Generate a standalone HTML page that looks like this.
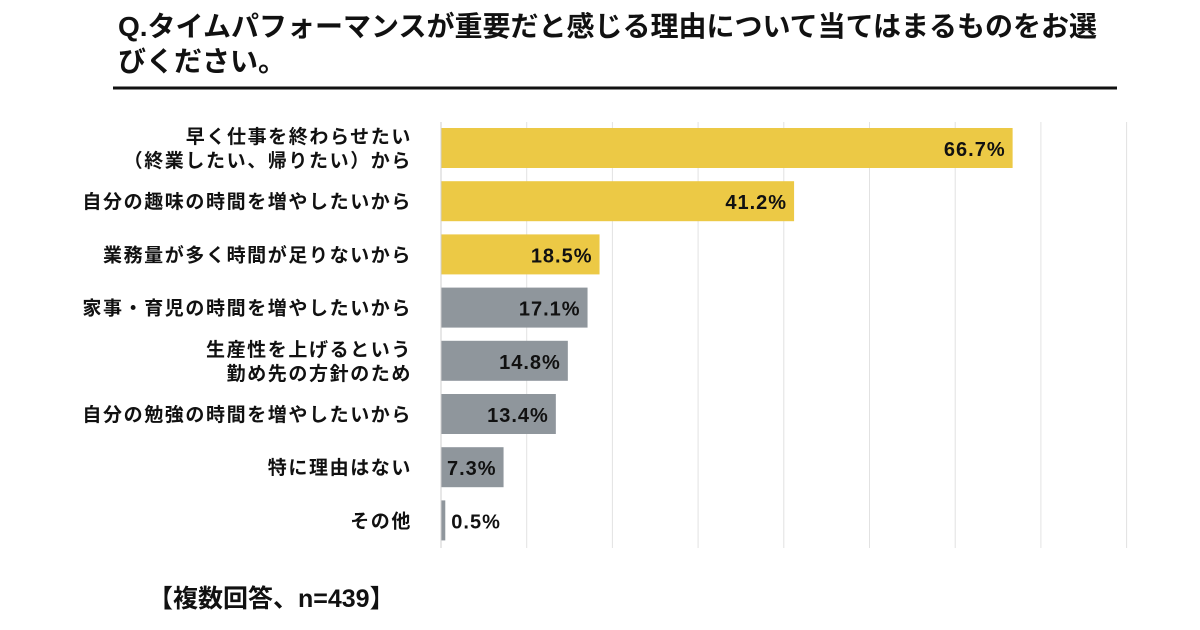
<!DOCTYPE html>
<html><head><meta charset="utf-8"><style>
body{margin:0;background:#fff;font-family:"Liberation Sans","Noto Sans CJK JP",sans-serif;}
#wrap{position:relative;width:1200px;height:630px;overflow:hidden;background:#fff}
</style></head><body>
<div id="wrap">
<svg id="chart" width="1200" height="630"></svg>
</div>
<script>
const categories=[["早く仕事を終わらせたい","（終業したい、帰りたい）から"],["自分の趣味の時間を増やしたいから"],["業務量が多く時間が足りないから"],["家事・育児の時間を増やしたいから"],["生産性を上げるという","勤め先の方針のため"],["自分の勉強の時間を増やしたいから"],["特に理由はない"],["その他"]];
const values=[66.7,41.2,18.5,17.1,14.8,13.4,7.3,0.5];
const highlight=[true,true,true,false,false,false,false,false];
const gridTicks=[0,10,20,30,40,50,60,70,80];

const NS="http://www.w3.org/2000/svg";
const svg=document.getElementById('chart');
function mk(t,a,txt){const e=document.createElementNS(NS,t);for(const k in a)e.setAttribute(k,a[k]);if(txt!==undefined)e.textContent=txt;svg.appendChild(e);return e;}
const x0=441,pxPer=8.57;
const xs=v=>x0+v*pxPer;
const ys=i=>148+i*53.2;
const F='"Liberation Sans","Noto Sans CJK JP",sans-serif';

let t=mk('text',{x:118,y:36,'font-size':28,'font-weight':'bold',fill:'#111','font-family':F},'Q.タイムパフォーマンスが重要だと感じる理由について当てはまるものをお選');

t=mk('text',{x:118,y:71,'font-size':28,'font-weight':'bold',fill:'#111','font-family':F},'びください。');

let l=mk('line',{x1:113,x2:1117,y1:88,y2:88,stroke:'#111','stroke-width':3});


gridTicks.forEach(g=>{if(g===0)return;const e=mk('line',{x1:xs(g),x2:xs(g),y1:122,y2:548,stroke:'#e2e2e2','stroke-width':1});
});

values.forEach((v,i)=>{
 const y=ys(i);
 const r=mk('rect',{x:x0,y:y-20,width:Math.max(v*pxPer,3),height:40,fill:highlight[i]?'#ecc945':'#8f969c'});
 
 const inside=v>3;
 const lab=mk('text',{x:inside?xs(v)-7:xs(v)+6,y:y+8,'font-size':20,'font-weight':'bold',fill:'#111','text-anchor':inside?'end':'start','letter-spacing':'1','font-family':F},v.toFixed(1)+'%');
 
 const lines=categories[i];
 lines.forEach((s,j)=>{const yy=lines.length===1?y+7:y-5+j*24;
  const c=mk('text',{x:412,y:yy,'font-size':19,'font-weight':'bold',fill:'#111','text-anchor':'end','letter-spacing':'1.6','font-family':F},s);
  });
});
const ax=mk('line',{x1:x0,x2:x0,y1:122,y2:548,stroke:'#cfcfcf','stroke-width':1});

t=mk('text',{x:148,y:607,'font-size':25,'font-weight':'bold',fill:'#111','font-family':F},'【複数回答、n=439】');

</script>
</body></html>
